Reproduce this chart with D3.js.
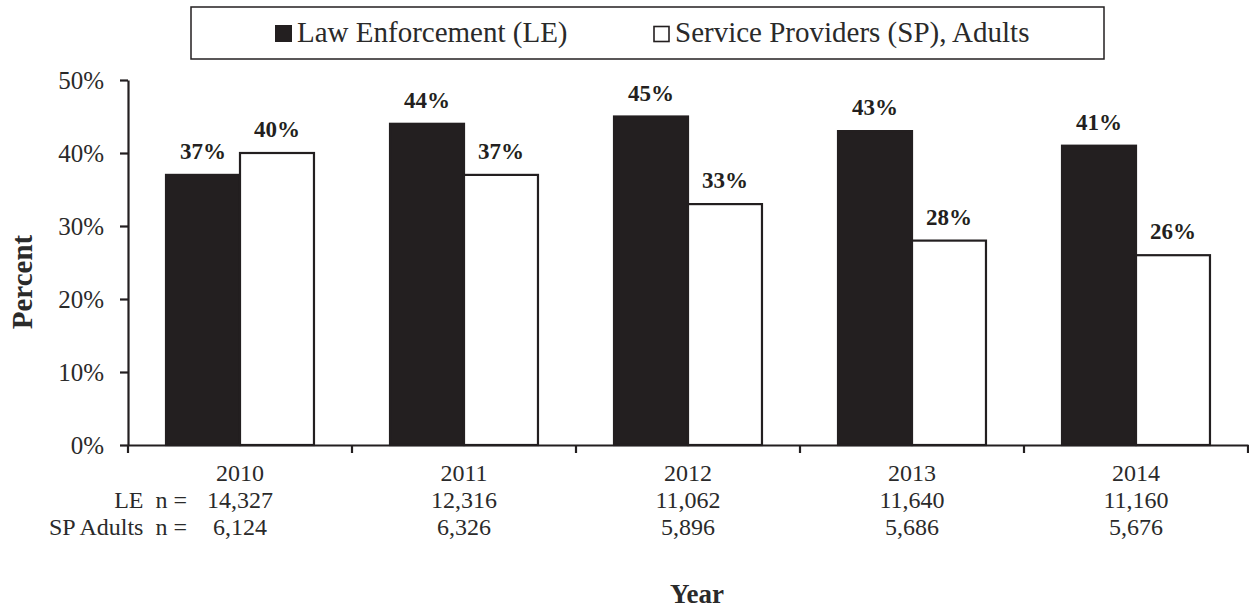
<!DOCTYPE html>
<html><head><meta charset="utf-8">
<script src="https://cdn.jsdelivr.net/npm/d3@7"></script>
<style>body{margin:0;background:#fff}svg{display:block}</style>
</head><body><svg id="c" width="1249" height="608"></svg>
<script>
const years = ["2010","2011","2012","2013","2014"];
const lawEnforcement = [37,44,45,43,41];
const serviceProviders = [40,37,33,28,26];
const leN = ["14,327","12,316","11,062","11,640","11,160"];
const spN = ["6,124","6,326","5,896","5,686","5,676"];
const yTicks = [0,10,20,30,40,50];
const seriesNames = ["Law Enforcement (LE)","Service Providers (SP), Adults"];

const svg = d3.select("#c");
const ink = "#231f20";
const FONT = "Liberation Serif";
const pLeft = 128, pRight = 1248, pTop = 80, pBottom = 445;
const x = d3.scaleBand().domain(years).range([pLeft, pRight]).paddingInner(0).paddingOuter(0);
const x1 = d3.scaleBand().domain(["le","sp"]).range([0, x.bandwidth()]).paddingOuter(0.514).paddingInner(0);
const y = d3.scaleLinear().domain([0,50]).range([pBottom, pTop]);

// y axis
const ya = svg.append("g").attr("transform",`translate(${pLeft},0)`)
  .call(d3.axisLeft(y).tickValues(yTicks).tickFormat(d=>d+"%").tickSize(8).tickSizeOuter(0));
ya.select(".domain").attr("stroke",ink).attr("stroke-width",2.2);
ya.selectAll(".tick line").attr("stroke",ink).attr("stroke-width",2.2);
ya.selectAll(".tick text").attr("font-size",25).attr("x",-24).attr("dy","0.33em").attr("fill","#2a2a2a");

// bars
const g = svg.append("g");
years.forEach((yr,i)=>{
  const vals = [["le",lawEnforcement[i],ink],["sp",serviceProviders[i],"#fff"]];
  vals.forEach(([k,v,f])=>{
    const bx = x(yr)+x1(k);
    g.append("rect").attr("x",bx).attr("y",y(v)).attr("width",x1.bandwidth()).attr("height",y(0)-y(v))
      .attr("fill",f).attr("stroke",ink).attr("stroke-width",2.2);
    g.append("text").attr("x",bx+x1.bandwidth()/2).attr("y",y(v)-16).attr("text-anchor","middle")
      .attr("font-size",23).attr("font-weight","bold").attr("fill",ink).text(v+"%");
  });
});

// x axis
const xa = svg.append("g").attr("transform",`translate(0,${pBottom})`)
  .call(d3.axisBottom(x).tickValues([]).tickSizeOuter(0));
xa.select(".domain").attr("stroke",ink).attr("stroke-width",2.2);
const bounds = years.map(d=>x(d)).concat([pRight]);
xa.selectAll("line.b").data(bounds).enter().append("line").attr("class","b")
  .attr("x1",d=>d).attr("x2",d=>d).attr("y1",0).attr("y2",8).attr("stroke",ink).attr("stroke-width",2.2);

// category labels
years.forEach((yr,i)=>{
  const cx = x(yr)+x.bandwidth()/2;
  svg.append("text").attr("x",cx).attr("y",481).attr("text-anchor","middle").attr("font-size",24).text(yr);
  svg.append("text").attr("x",cx).attr("y",508).attr("text-anchor","middle").attr("font-size",24).text(leN[i]);
  svg.append("text").attr("x",cx).attr("y",535).attr("text-anchor","middle").attr("font-size",24).text(spN[i]);
});
svg.append("text").attr("x",187).attr("y",508).attr("text-anchor","end").attr("font-size",24).attr("xml:space","preserve").text("LE  n =");
svg.append("text").attr("x",187).attr("y",535).attr("text-anchor","end").attr("font-size",24).attr("xml:space","preserve").text("SP Adults  n =");

// axis titles
svg.append("text").attr("transform","translate(32,282) rotate(-90)").attr("text-anchor","middle")
  .attr("font-size",29).attr("font-weight","bold").text("Percent");
svg.append("text").attr("x",697).attr("y",603).attr("text-anchor","middle")
  .attr("font-size",27).attr("font-weight","bold").text("Year");

// legend
svg.append("rect").attr("x",191).attr("y",7).attr("width",913).attr("height",52).attr("fill","#fff").attr("stroke",ink).attr("stroke-width",1.5);
svg.append("rect").attr("x",275).attr("y",25).attr("width",17).attr("height",17).attr("fill",ink);
svg.append("text").attr("x",297).attr("y",42).attr("font-size",29).text(seriesNames[0]);
svg.append("rect").attr("x",654).attr("y",26.5).attr("width",15).attr("height",15).attr("fill","#fff").attr("stroke",ink).attr("stroke-width",1.6);
svg.append("text").attr("x",675).attr("y",42).attr("font-size",29).text(seriesNames[1]);

svg.selectAll("text").style("font-family",FONT).attr("font-family",FONT).filter(function(){return !this.getAttribute("fill");}).attr("fill","#2a2a2a");
</script></body></html>
